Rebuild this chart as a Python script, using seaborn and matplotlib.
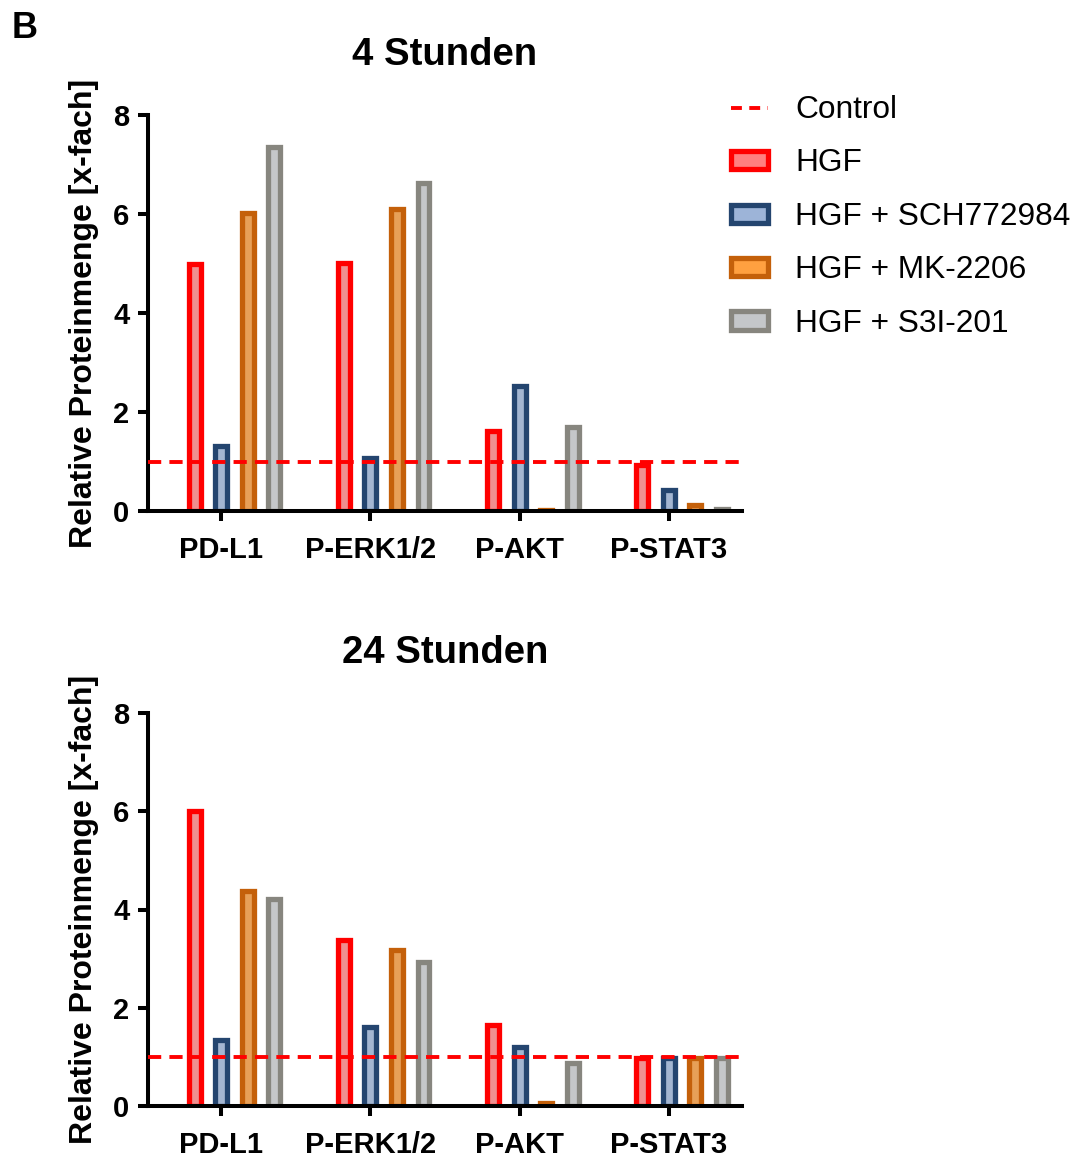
import numpy as np
import pandas as pd
import matplotlib
matplotlib.use("Agg")
import matplotlib.pyplot as plt
from matplotlib.lines import Line2D
from matplotlib.patches import Patch
import seaborn as sns

# ---------------- data ----------------
targets = ["PD-L1", "P-ERK1/2", "P-AKT", "P-STAT3"]
treatments = ["Control", "HGF", "HGF + SCH772984", "HGF + MK-2206", "HGF + S3I-201"]

control_4h = [1.0, 1.0, 1.0, 1.0]
hgf_4h = [4.98, 5.02, 1.62, 0.93]
sch_4h = [1.32, 1.07, 2.52, 0.43]
mk_4h = [6.02, 6.10, 0.03, 0.13]
s3i_4h = [7.35, 6.62, 1.70, 0.04]

control_24h = [1.0, 1.0, 1.0, 1.0]
hgf_24h = [6.00, 3.38, 1.64, 0.97]
sch_24h = [1.35, 1.61, 1.21, 0.97]
mk_24h = [4.38, 3.17, 0.07, 0.97]
s3i_24h = [4.21, 2.94, 0.88, 0.97]

panel_titles = ["4 Stunden", "24 Stunden"]
y_ticks = [0, 2, 4, 6, 8]
y_label = "Relative Proteinmenge [x-fach]"
control_level = 1.0

fill_colors = {"Control": "#FFFFFF", "HGF": "#FF8080", "HGF + SCH772984": "#9DB4D8",
               "HGF + MK-2206": "#FFA040", "HGF + S3I-201": "#C4C7CA"}
edge_colors = {"Control": "#FFFFFF", "HGF": "#FF0000", "HGF + SCH772984": "#24456F",
               "HGF + MK-2206": "#C4600A", "HGF + S3I-201": "#87867F"}


def make_df(series):
    rows = []
    for trt, vals in zip(treatments, series):
        for t, v in zip(targets, vals):
            rows.append({"target": t, "treatment": trt, "value": v})
    return pd.DataFrame(rows)


df_4h = make_df([control_4h, hgf_4h, sch_4h, mk_4h, s3i_4h])
df_24h = make_df([control_24h, hgf_24h, sch_24h, mk_24h, s3i_24h])

# ---------------- style ----------------
sns.set_theme(style="ticks")
plt.rcParams["font.family"] = ["Liberation Sans", "DejaVu Sans"]
plt.rcParams.update({"text.color": "black", "axes.labelcolor": "black",
                     "xtick.color": "black", "ytick.color": "black",
                     "axes.edgecolor": "black"})

W, H = 1078, 1157
fig = plt.figure(figsize=(W / 100, H / 100), dpi=100)
ax1 = fig.add_axes([148 / W, 1 - 511 / H, 594 / W, 396 / H])
ax2 = fig.add_axes([148 / W, 1 - 1106 / H, 594 / W, 393 / H])

for ax, df, title in zip([ax1, ax2], [df_4h, df_24h], panel_titles):
    sns.barplot(data=df, x="target", y="value", hue="treatment",
                order=targets, hue_order=treatments, palette=fill_colors,
                width=0.89, gap=0.55, errorbar=None, linewidth=3.8,
                legend=False, ax=ax)
    for trt, cont in zip(treatments, ax.containers):
        for p in cont.patches:
            if trt == "Control":
                p.set_visible(False)
            else:
                p.set_edgecolor(edge_colors[trt])
                p.set_linewidth(3.8)
    ax.axhline(control_level, color="#FF0000", lw=2.8,
               linestyle=(0, (3.4, 2.1)), zorder=10)
    ax.set_xlim(-0.49, 3.49)
    ax.set_ylim(0, 8)
    ax.set_yticks(y_ticks)
    ax.set_xlabel("")
    ax.set_ylabel(y_label, fontsize=23, fontweight="bold", labelpad=10, color="black")
    ax.set_title(title, fontsize=27.5, fontweight="bold", pad=36, color="black")
    sns.despine(ax=ax)
    for s in ["left", "bottom"]:
        ax.spines[s].set_linewidth(2.9)
        ax.spines[s].set_color("black")
    ax.tick_params(axis="both", width=2.9, length=7.5, labelsize=21,
                   color="black", labelcolor="black")
    ax.tick_params(axis="y", pad=6)
    ax.tick_params(axis="x", pad=10.5)
    for lab in ax.get_xticklabels() + ax.get_yticklabels():
        lab.set_fontweight("bold")
    ax.set_facecolor("white")

# legend
handles = [Line2D([0], [0], color="#FF0000", lw=2.8, linestyle=(0, (2.8, 1.9)))]
for trt in treatments[1:]:
    handles.append(Patch(facecolor=fill_colors[trt], edgecolor=edge_colors[trt], linewidth=3.8))
fig.legend(handles, treatments, loc="upper left", bbox_to_anchor=(731 / W, 1 - 95 / H),
           frameon=False, fontsize=22.8, handlelength=1.17, handleheight=0.5,
           handletextpad=0.85, labelspacing=0.74, borderpad=0, borderaxespad=0,
           labelcolor="black")

fig.text(12 / W, 1 - 38 / H, "B", fontsize=26, fontweight="bold", va="baseline",
         ha="left", color="black")

fig.savefig("out.png", dpi=100, facecolor="white")
